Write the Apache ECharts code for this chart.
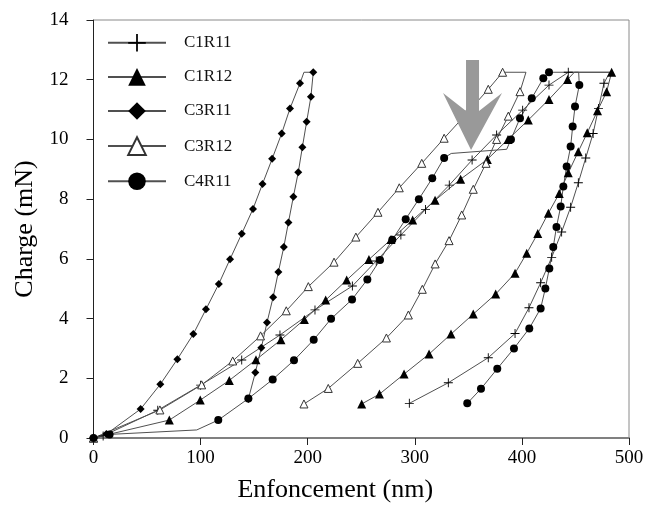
<!DOCTYPE html>
<html>
<head>
<meta charset="utf-8">
<script src="https://cdn.jsdelivr.net/npm/echarts@6/dist/echarts.min.js"></script>
<style>
html,body{margin:0;padding:0;background:#fff;}
#chart{width:663px;height:518px;}
</style>
</head>
<body>
<div id="chart"></div>
<script>
// ---- data (Enfoncement nm, Charge mN) ----
const seriesNames = ['C1R11', 'C1R12', 'C3R11', 'C3R12', 'C4R11'];
const xTicks = [0, 100, 200, 300, 400, 500];
const yTicks = [0, 2, 4, 6, 8, 10, 12, 14];

const C1R11 = [[0,0],[9,0.07],[60,0.93],[100,1.77],[138.4,2.61],[174.1,3.45],[206.8,4.29],[241.7,5.09],[264,5.93],[287,6.8],[310,7.65],[332.2,8.47],[353.5,9.31],[376.4,10.15],[400.7,10.98],[425.3,11.82],[443.3,12.25],[482,12.25],
  [476.6,11.88],[471.5,11.04],[466.5,10.2],[459.6,9.38],[452.7,8.55],[445.5,7.73],[437.1,6.9],[427.8,6.05],[417.5,5.2],[406.6,4.36],[393.6,3.5],[368.6,2.69],[331.3,1.85],[294.9,1.16]];
const C1R11_plain = [17];

const C1R12 = [[0,0],[70.8,0.6],[99.7,1.27],[126.8,1.93],[151.7,2.62],[175,3.29],[196.9,3.97],[216.8,4.62],[236.4,5.29],[257.2,5.98],[277.8,6.65],[298,7.3],[318.9,7.96],[342.8,8.67],[367.7,9.33],[387,10.0],[406,10.65],[425.3,11.34],[442.7,12.01],[449,12.25],[483.8,12.25],
  [479.1,11.6],[470.6,10.96],[461,10.22],[452.6,9.59],[443.3,8.88],[434.9,8.19],[424.7,7.53],[414.8,6.85],[404.5,6.19],[393.6,5.52],[375.5,4.82],[354.6,4.15],[333.8,3.48],[313.3,2.81],[290,2.14],[267,1.47],[250.4,1.14]];
const C1R12_plain = [19];

const C3R11 = [[0,0],[12,0.13],[44,0.97],[62.4,1.8],[78.3,2.64],[93.2,3.48],[105,4.31],[117,5.16],[127.5,5.99],[138.4,6.84],[148.9,7.67],[157.8,8.51],[166.8,9.35],[175.7,10.2],[183.5,11.04],[192.8,11.88],[196.5,12.25],[205.2,12.25],
  [203,11.43],[199,10.59],[195,9.74],[191.2,8.9],[186.6,8.08],[182,7.22],[177.7,6.4],[172.6,5.56],[167.7,4.71],[162,3.87],[156.7,3.02],[151.1,2.19],[144.6,1.31]];
const C3R11_plain = [16];

const C3R12 = [[0,0],[62,0.94],[101,1.78],[130,2.58],[156,3.42],[180,4.26],[200.6,5.07],[224.6,5.89],[245,6.73],[265.6,7.56],[285.5,8.38],[306.5,9.2],[327.4,10.04],[348.5,10.87],[368.6,11.68],[382,12.25],[403.8,12.25],
  [398.2,11.6],[387.3,10.78],[376.4,10.0],[366.5,9.2],[354.6,8.33],[343.8,7.47],[332,6.61],[319,5.83],[307,4.98],[294,4.12],[273.5,3.35],[246.7,2.5],[219.2,1.66],[196.5,1.14]];
const C3R12_plain = [16];

const C4R11 = [[0,0],[15,0.12],[96.4,0.27],[116.5,0.6],[144.6,1.32],[167.3,1.96],[187.2,2.6],[205.6,3.29],[221.8,3.99],[241.4,4.64],[255.7,5.31],[267.5,5.96],[279,6.64],[291.5,7.33],[303.8,8.0],[316.3,8.7],[327.4,9.38],[334,9.53],[360,9.6],[385.8,9.67],[389.8,10.0],[398.2,10.71],[409.2,11.38],[420,12.05],[425.3,12.25],[453,12.25],
  [453.6,11.82],[449.6,11.1],[447.4,10.43],[445.5,9.76],[441.8,9.09],[438.7,8.42],[436.2,7.75],[432.3,7.07],[429.3,6.4],[425.6,5.68],[421.9,5.01],[417.5,4.34],[406.9,3.67],[392.6,3.0],[377,2.32],[361.8,1.65],[349,1.16]];
const C4R11_plain = [2, 17, 18, 19, 25];

// arrow annotation anchor (tip), in data coordinates
const arrowTip = [352.5, 9.65];

// ---- build ----
const PLUS = 'path://M9,0H11V9H20V11H11V20H9V11H0V9H9Z';
function build(points, plain) {
  return points.map((p, i) => plain.indexOf(i) >= 0 ? {value: p, symbol: 'none'} : {value: p});
}
const FONT = 'Liberation Serif';
const LINE = '#505050';

function mk(name, pts, plain, symbol, size, itemStyle) {
  return {
    name: name, type: 'line', data: build(pts, plain),
    symbol: symbol, symbolSize: size, showAllSymbol: true,
    lineStyle: {color: LINE, width: 1},
    itemStyle: itemStyle,
    emphasis: {disabled: true},
    z: 3
  };
}

const chart = echarts.init(document.getElementById('chart'), null, {renderer: 'canvas'});
chart.setOption({
  animation: false,
  backgroundColor: '#fff',
  grid: {left: 93.5, right: 34, top: 20, bottom: 80, show: true, borderColor: '#8a8a8a', borderWidth: 1, outerBoundsMode: 'none'},
  legend: {
    orient: 'vertical', left: 107, top: 34, padding: 0,
    itemWidth: 58, itemHeight: 22, itemGap: 16.5,
    data: seriesNames,
    textStyle: {fontFamily: FONT, fontSize: 17, color: '#111', padding: [0, 0, 0, 13]},
    selectedMode: false
  },
  xAxis: {
    type: 'value', min: xTicks[0], max: xTicks[xTicks.length - 1], interval: 100,
    name: 'Enfoncement (nm)', nameLocation: 'middle', nameGap: 39,
    nameTextStyle: {fontFamily: FONT, fontSize: 26, color: '#000', padding: [0, 52, 0, 0]},
    axisLine: {lineStyle: {color: '#808080', width: 2}},
    axisTick: {length: 7, lineStyle: {color: '#222', width: 1}},
    axisLabel: {fontFamily: FONT, fontSize: 19, color: '#000', margin: 11},
    splitLine: {show: false}
  },
  yAxis: {
    type: 'value', min: yTicks[0], max: yTicks[yTicks.length - 1], interval: 2,
    name: 'Charge (mN)', nameLocation: 'middle', nameGap: 49,
    nameTextStyle: {fontFamily: FONT, fontSize: 26, color: '#000'},
    axisLine: {lineStyle: {color: '#222', width: 1}},
    axisTick: {length: 7, lineStyle: {color: '#222', width: 1}},
    axisLabel: {fontFamily: FONT, fontSize: 19, color: '#000', margin: 25},
    splitLine: {show: false}
  },
  series: [
    mk('C1R11', C1R11, C1R11_plain, PLUS, 9, {color: '#000'}),
    mk('C1R12', C1R12, C1R12_plain, 'triangle', 9, {color: '#000'}),
    mk('C3R11', C3R11, C3R11_plain, 'diamond', 8, {color: '#000'}),
    mk('C3R12', C3R12, C3R12_plain, 'triangle', 8, {color: '#fff', borderColor: '#333', borderWidth: 1}),
    mk('C4R11', C4R11, C4R11_plain, 'circle', 8, {color: '#000'})
  ]
});

const tip = chart.convertToPixel({xAxisIndex: 0, yAxisIndex: 0}, arrowTip);
chart.setOption({
  graphic: [{
    type: 'polygon', x: tip[0], y: tip[1], z: 10,
    shape: {points: [[-5,-90],[8,-90],[8,-39],[31,-57],[0,0],[-28,-57],[-5,-39]]},
    style: {fill: '#999999'}
  }]
});
</script>
</body>
</html>
